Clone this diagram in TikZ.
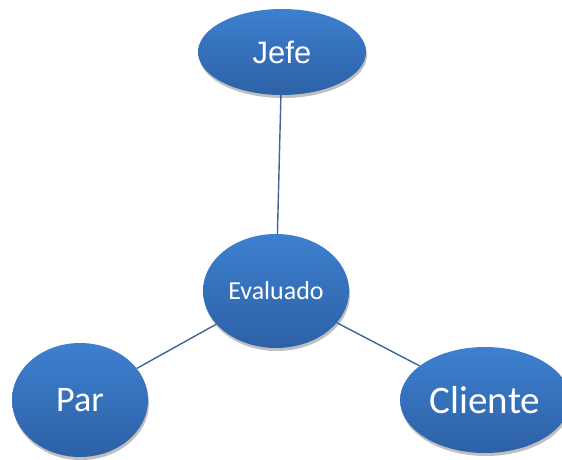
\documentclass[tikz,border=0pt]{standalone}
\usepackage{fontspec}
\setmainfont{Carlito}
\newfontfamily\arialf{Liberation Sans}
\usetikzlibrary{shapes.geometric,shadows}
\definecolor{topblue}{HTML}{3D80CF}
\definecolor{botblue}{HTML}{2D61A6}
\definecolor{linkblue}{HTML}{3F6595}
\tikzset{
  bubble/.style={ellipse, inner sep=0pt, text=white,
    top color=topblue, bottom color=botblue,
    drop shadow={shadow xshift=1pt, shadow yshift=-3pt, fill=black, opacity=0.25}},
  link/.style={draw=linkblue, line width=1.4pt}
}
\begin{document}
\begin{tikzpicture}[x=1pt,y=1pt]
\useasboundingbox (0,0) rectangle (562,459);
\clip (0,0) rectangle (562,459);
\node[bubble, minimum width=168pt, minimum height=86pt, font=\arialf\fontsize{31}{36}\selectfont] (jefe) at (282,407) {Jefe};
\node[bubble, minimum width=146pt, minimum height=114pt, font=\fontsize{26}{30}\selectfont] (eval) at (276,168) {Evaluado};
\node[bubble, minimum width=136pt, minimum height=114pt, font=\fontsize{36}{40}\selectfont] (par) at (80,59) {Par};
\node[bubble, minimum width=170pt, minimum height=106pt, font=\fontsize{39}{44}\selectfont] (cliente) at (485,59) {Cliente};
\draw[link] (jefe) -- (eval);
\draw[link] (eval) -- (par);
\draw[link] (eval) -- (cliente);
\end{tikzpicture}
\end{document}
